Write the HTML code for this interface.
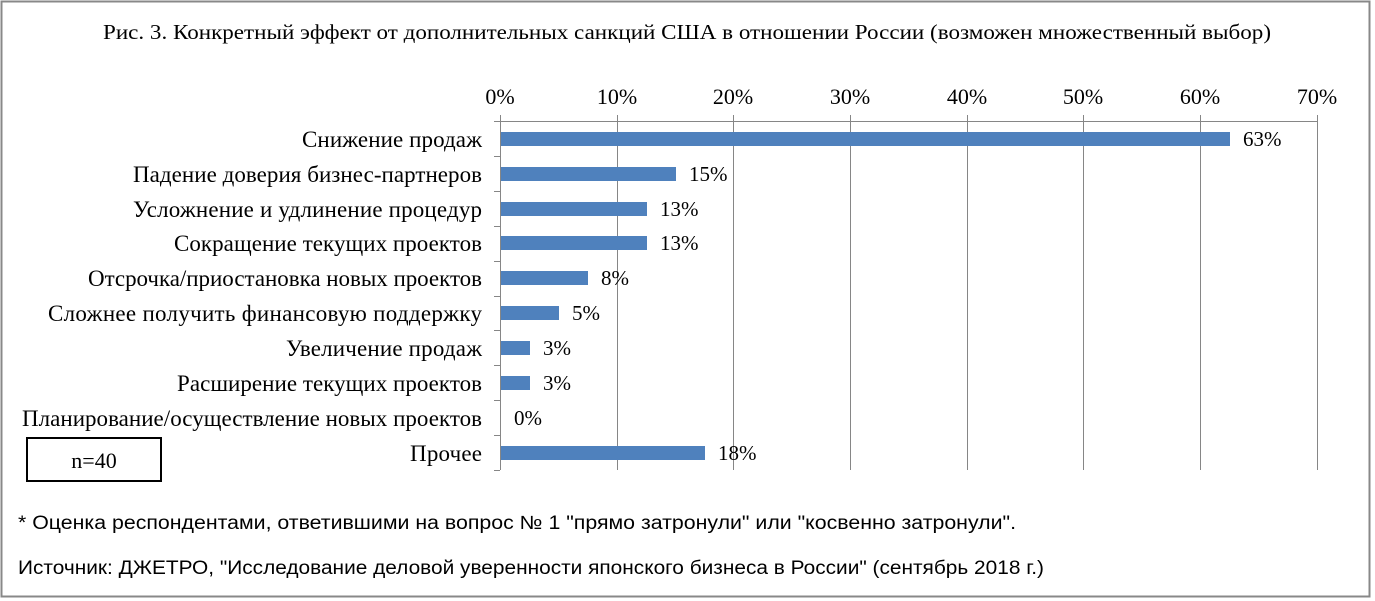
<!DOCTYPE html>
<html><head><meta charset="utf-8"><style>body{margin:0;background:#fff}svg{display:block}</style></head>
<body>
<svg width="1375" height="601" xmlns="http://www.w3.org/2000/svg" font-family="Liberation Serif, serif" font-size="21" fill="#000">
<rect x="1.5" y="1.5" width="1368" height="595" fill="#fff" stroke="#888" stroke-width="2"/>
<text x="687" y="39" text-anchor="middle" font-size="21" textLength="1168" lengthAdjust="spacingAndGlyphs">Рис. 3. Конкретный эффект от дополнительных санкций США в отношении России (возможен множественный выбор)</text>
<g stroke="#868686" stroke-width="1">
<line x1="500" y1="121.5" x2="1317" y2="121.5"/>
<line x1="500.5" y1="115" x2="500.5" y2="470"/>
<line x1="617.5" y1="115" x2="617.5" y2="470"/>
<line x1="733.5" y1="115" x2="733.5" y2="470"/>
<line x1="850.5" y1="115" x2="850.5" y2="470"/>
<line x1="967.5" y1="115" x2="967.5" y2="470"/>
<line x1="1083.5" y1="115" x2="1083.5" y2="470"/>
<line x1="1200.5" y1="115" x2="1200.5" y2="470"/>
<line x1="1317.5" y1="115" x2="1317.5" y2="470"/>
<line x1="494" y1="121.5" x2="500" y2="121.5"/><line x1="494" y1="156.5" x2="500" y2="156.5"/><line x1="494" y1="191.5" x2="500" y2="191.5"/><line x1="494" y1="226.5" x2="500" y2="226.5"/><line x1="494" y1="261.5" x2="500" y2="261.5"/><line x1="494" y1="296.5" x2="500" y2="296.5"/><line x1="494" y1="330.5" x2="500" y2="330.5"/><line x1="494" y1="365.5" x2="500" y2="365.5"/><line x1="494" y1="400.5" x2="500" y2="400.5"/><line x1="494" y1="435.5" x2="500" y2="435.5"/><line x1="494" y1="470.5" x2="500" y2="470.5"/>
</g>
<g text-anchor="middle" font-size="22">
<text x="500" y="104">0%</text><text x="617" y="104">10%</text><text x="733" y="104">20%</text><text x="850" y="104">30%</text><text x="967" y="104">40%</text><text x="1083" y="104">50%</text><text x="1200" y="104">60%</text><text x="1317" y="104">70%</text>
</g>
<g fill="#4f81bd">
<rect x="501" y="132" width="729" height="14"/>
<rect x="501" y="167" width="175" height="14"/>
<rect x="501" y="202" width="146" height="14"/>
<rect x="501" y="236" width="146" height="14"/>
<rect x="501" y="271" width="87" height="14"/>
<rect x="501" y="306" width="58" height="14"/>
<rect x="501" y="341" width="29" height="14"/>
<rect x="501" y="376" width="29" height="14"/>
<rect x="501" y="446" width="204" height="14"/>
</g>
<g font-size="23" lengthAdjust="spacingAndGlyphs">
<text x="302" y="147" textLength="180">Снижение продаж</text>
<text x="133" y="182" textLength="349">Падение доверия бизнес-партнеров</text>
<text x="133" y="217" textLength="349">Усложнение и удлинение процедур</text>
<text x="174" y="251" textLength="308">Сокращение текущих проектов</text>
<text x="88" y="286" textLength="394">Отсрочка/приостановка новых проектов</text>
<text x="48" y="321" textLength="434">Сложнее получить финансовую поддержку</text>
<text x="286" y="356" textLength="196">Увеличение продаж</text>
<text x="177" y="391" textLength="305">Расширение текущих проектов</text>
<text x="22" y="426" textLength="460">Планирование/осуществление  новых проектов</text>
<text x="410" y="461" textLength="72">Прочее</text>
</g>
<g font-size="21">
<text x="1243" y="146">63%</text>
<text x="689" y="181">15%</text>
<text x="660" y="216">13%</text>
<text x="660" y="250">13%</text>
<text x="601" y="285">8%</text>
<text x="572" y="320">5%</text>
<text x="543" y="355">3%</text>
<text x="543" y="390">3%</text>
<text x="514" y="425">0%</text>
<text x="718" y="460">18%</text>
</g>
<rect x="27" y="438" width="134" height="43" fill="none" stroke="#000" stroke-width="2"/>
<text x="94" y="468" text-anchor="middle" font-size="22">n=40</text>
<g font-family="Liberation Sans, sans-serif" font-size="19">
<text x="18" y="529" textLength="998" lengthAdjust="spacingAndGlyphs">* Оценка респондентами, ответившими на вопрос № 1 "прямо затронули" или "косвенно затронули".</text>
<text x="18" y="574" textLength="1026" lengthAdjust="spacingAndGlyphs">Источник: ДЖЕТРО, "Исследование деловой уверенности японского бизнеса в России" (сентябрь 2018 г.)</text>
</g>
</svg>
</body></html>
